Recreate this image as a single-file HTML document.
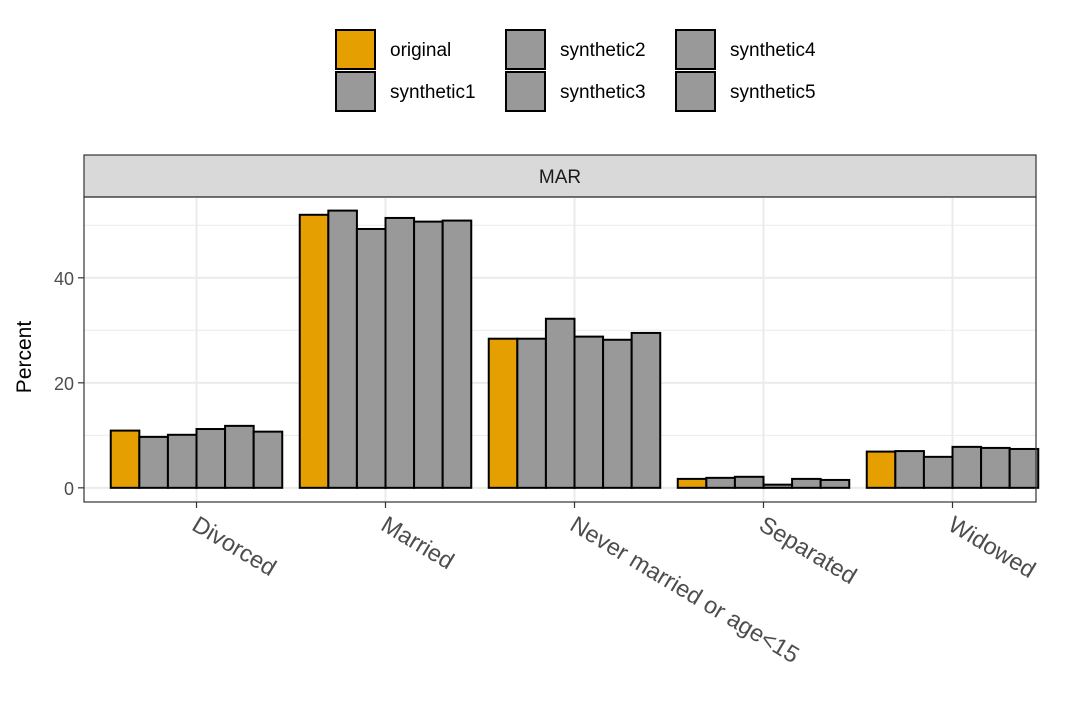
<!DOCTYPE html>
<html><head><meta charset="utf-8"><style>
body{margin:0;background:#fff;}
svg{font-family:"Liberation Sans",Arial,sans-serif;}
</style></head><body>
<svg id="chart" width="1080" height="720" viewBox="0 0 1080 720">
<g id="legend"></g>
<rect x="84" y="155" width="952" height="42" fill="#d9d9d9" stroke="#333" stroke-width="1.2"/>
<text x="560" y="183" text-anchor="middle" font-size="19" fill="#1a1a1a">MAR</text>
<g id="grid"></g>
<g id="bars"></g>
<rect x="84" y="197" width="952" height="305" fill="none" stroke="#333" stroke-width="1.2"/>
<g id="axes"></g>
<text transform="translate(31,357) rotate(-90)" text-anchor="middle" font-size="21" fill="#000">Percent</text>
</svg>
<script>
const categories=["Divorced","Married","Never married or age<15","Separated","Widowed"];
const seriesNames=["original","synthetic1","synthetic2","synthetic3","synthetic4","synthetic5"];
const original=[10.9,52.0,28.4,1.7,6.9];
const synthetic1=[9.7,52.8,28.4,1.9,7.0];
const synthetic2=[10.1,49.3,32.2,2.1,5.9];
const synthetic3=[11.2,51.4,28.8,0.6,7.8];
const synthetic4=[11.8,50.7,28.2,1.7,7.6];
const synthetic5=[10.7,50.9,29.5,1.5,7.4];
const yTicks=[0,20,40];
const yMinor=[10,30,50];
const series=[original,synthetic1,synthetic2,synthetic3,synthetic4,synthetic5];
const NS="http://www.w3.org/2000/svg";
const px0=84,px1=1036,py0=198,py1=502;
const yMin=-2.7,yMax=55.2;
function y(v){return py1-(v-yMin)/(yMax-yMin)*(py1-py0);}
const band=189;
function xc(i){return 196.5+band*i;}
function mk(tag,attrs,parent){const e=document.createElementNS(NS,tag);for(const k in attrs)e.setAttribute(k,attrs[k]);parent.appendChild(e);return e;}
const grid=document.getElementById('grid'),bars=document.getElementById('bars'),axes=document.getElementById('axes'),legend=document.getElementById('legend');
mk('rect',{x:px0,y:py0,width:px1-px0,height:py1-py0,fill:'#fff'},grid);
yMinor.forEach(v=>{const l=mk('line',{x1:px0,x2:px1,y1:y(v),y2:y(v),stroke:'#ebebeb','stroke-width':1},grid);

});
yTicks.forEach(v=>{const l=mk('line',{x1:px0,x2:px1,y1:y(v),y2:y(v),stroke:'#ebebeb','stroke-width':2},grid);

});
categories.forEach((c,i)=>{const l=mk('line',{x1:xc(i),x2:xc(i),y1:py0,y2:py1,stroke:'#ebebeb','stroke-width':2},grid);

});
const gw=171.5,bw=gw/series.length;
categories.forEach((c,i)=>{series.forEach((s,j)=>{
const x=xc(i)-gw/2+j*bw;const top=y(Math.max(s[i],0)),base=y(0);
const r=mk('rect',{x:x,y:top,width:bw,height:base-top,fill:j==0?'#e69f00':'#999999',stroke:'#000','stroke-width':2},bars);

});});
yTicks.forEach(v=>{mk('line',{x1:px0-6,x2:px0,y1:y(v),y2:y(v),stroke:'#333','stroke-width':1.2},axes);
const t=mk('text',{x:px0-10,y:y(v)+7,'text-anchor':'end','font-size':18,fill:'#4d4d4d'},axes);t.textContent=v;

});
categories.forEach((c,i)=>{mk('line',{x1:xc(i),x2:xc(i),y1:py1,y2:py1+6,stroke:'#333','stroke-width':1.2},axes);
const t=mk('text',{transform:`translate(${xc(i)-6},${py1+27}) rotate(31)`,'font-size':23.5,fill:'#4d4d4d'},axes);t.textContent=c;

});
seriesNames.forEach((n,j)=>{const col=Math.floor(j/2);const row=j%2;
const cx=[335,505,675][col],cy=[29,71][row];
const r=mk('rect',{x:cx+1,y:cy+1,width:39,height:39,fill:j==0?'#e69f00':'#999999',stroke:'#000','stroke-width':2},legend);


const t=mk('text',{x:cx+55,y:cy+27,'font-size':19,fill:'#000'},legend);t.textContent=n;

});
</script>
</body></html>
